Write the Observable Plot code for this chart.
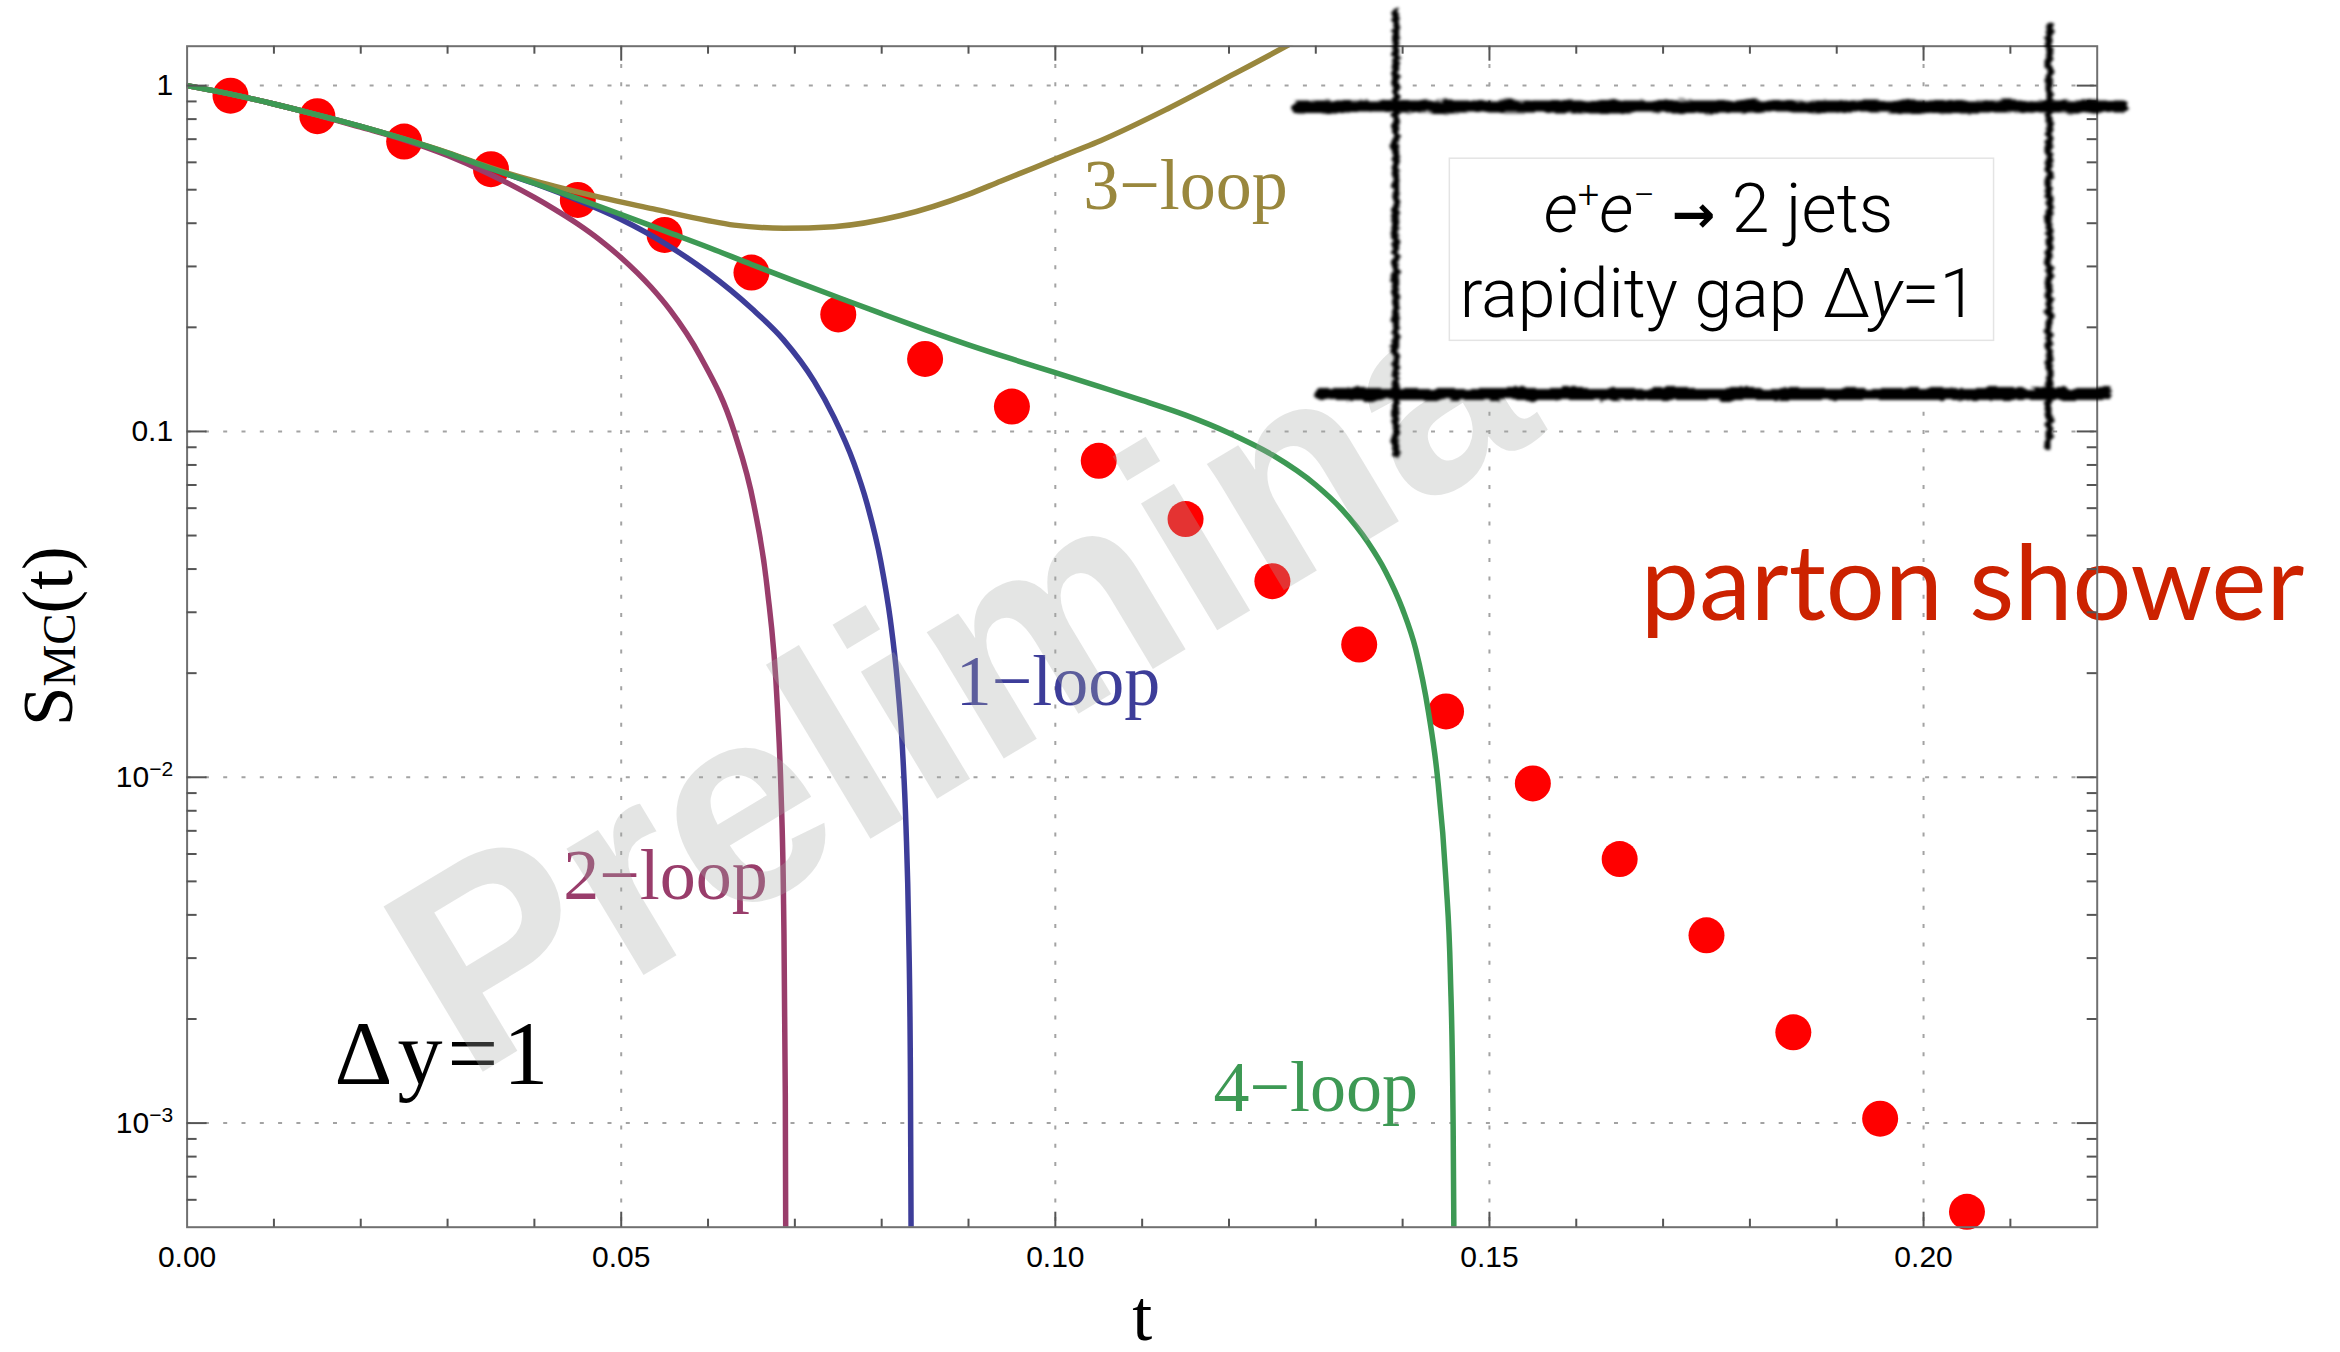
<!DOCTYPE html>
<html><head><meta charset="utf-8">
<script src="https://cdn.jsdelivr.net/npm/d3@7"></script>
<script src="https://cdn.jsdelivr.net/npm/@observablehq/plot@0.6"></script>
<style>html,body{margin:0;padding:0;background:#fff;} svg{display:block;}</style>
</head><body>
<script>
// ---------- data ----------
const showerT = [0.005,0.015,0.025,0.035,0.045,0.055,0.065,0.075,0.085,0.095,0.105,0.115,0.125,0.135,0.145,0.155,0.165,0.175,0.185,0.195,0.205];
const showerS = [0.935,0.816,0.689,0.573,0.467,0.370,0.288,0.218,0.162,0.118,0.0822,0.0558,0.0369,0.0242,0.0155,0.0096,0.0058,0.00349,0.00183,0.00103,0.000554];

const loop1T = [0,0.005,0.010,0.015,0.020,0.025,0.030,0.035,0.040,0.045,0.050,0.055,0.060,0.065,0.0687,0.0722,0.0745,0.0768,0.0783,0.0799,0.0810,0.0818,0.0824,0.0828,0.0831,0.0833,0.0834,0.08345];
const loop1S = [1,0.945,0.885,0.823,0.762,0.700,0.638,0.575,0.521,0.466,0.410,0.350,0.288,0.227,0.184,0.140,0.110,0.081,0.062,0.042,0.0285,0.0190,0.0120,0.0072,0.0037,0.0015,0.0004,0.0001];

const loop2T = [0,0.005,0.010,0.015,0.020,0.025,0.030,0.0345,0.040,0.0422,0.045,0.0476,0.050,0.0534,0.0556,0.0591,0.063,0.0653,0.0668,0.0680,0.0684,0.0687,0.0689,0.06897];
const loop2S = [1,0.945,0.885,0.822,0.758,0.697,0.628,0.560,0.475,0.441,0.398,0.357,0.318,0.262,0.225,0.165,0.100,0.061,0.0355,0.0158,0.0092,0.0043,0.0012,0.0003];

const loop3T = [0,0.005,0.010,0.015,0.020,0.025,0.030,0.035,0.040,0.0476,0.0537,0.0598,0.063,0.0687,0.0745,0.0822,0.0899,0.0937,0.0975,0.1022,0.1052,0.1129,0.1206,0.1267,0.1300];
const loop3S = [1,0.945,0.885,0.823,0.762,0.701,0.640,0.578,0.530,0.475,0.440,0.408,0.395,0.387,0.391,0.421,0.484,0.529,0.578,0.646,0.693,0.856,1.081,1.305,1.45];

const loop4T = [0,0.005,0.010,0.015,0.020,0.025,0.030,0.035,0.040,0.045,0.050,0.055,0.060,0.065,0.070,0.075,0.080,0.085,0.090,0.095,0.100,0.105,0.110,0.115,0.120,0.125,0.130,0.133,0.136,0.138,0.140,0.1415,0.143,0.144,0.145,0.1455,0.1458,0.1459,0.14595];
const loop4S = [1,0.945,0.885,0.823,0.762,0.700,0.638,0.575,0.522,0.471,0.424,0.380,0.341,0.304,0.272,0.244,0.219,0.197,0.178,0.162,0.148,0.135,0.123,0.1115,0.099,0.0855,0.070,0.0595,0.0478,0.0395,0.0306,0.0235,0.0153,0.0101,0.0050,0.0027,0.0011,0.0005,0.0002];

const xTickLabels = [0, 0.05, 0.10, 0.15, 0.20];
const yTickLabels = [1, 0.1, 0.01, 0.001];

const curveNames = ["1−loop", "2−loop", "3−loop", "4−loop"];
const curveLabelT = [0.1003, 0.0551, 0.1150, 0.1300];
const curveLabelS = [0.01884, 0.00517, 0.514, 0.00126];

// ---------- styles ----------
const colors = {"1−loop": "#3d3d99", "2−loop": "#993d6b", "3−loop": "#99873d", "4−loop": "#3d9954"};
const W = 2340, H = 1352;
const M = {left: 186.6, right: 243.3, top: 45.7, bottom: 125.3};
const PW = W - M.left - M.right, PH = H - M.top - M.bottom;

// ---------- tables ----------
const shower = showerT.map((t, i) => ({t, s: showerS[i]}));
const curves = [
  ...loop1T.map((t, i) => ({name: "1−loop", t, s: loop1S[i]})),
  ...loop2T.map((t, i) => ({name: "2−loop", t, s: loop2S[i]})),
  ...loop3T.map((t, i) => ({name: "3−loop", t, s: loop3S[i]})),
  ...loop4T.map((t, i) => ({name: "4−loop", t, s: loop4S[i]}))
];
const curveLabels = curveNames.map((name, i) => ({name, t: curveLabelT[i], s: curveLabelS[i]}));

const xMinor = d3.range(1, 22).map(i => i / 100).filter(v => Math.abs(v * 20 - Math.round(v * 20)) > 1e-6);
const yMinor = [];
for (const e of [-4, -3, -2, -1]) for (let m = 2; m <= 9; m++) { const v = m * 10 ** e; if (v > 5.01e-4 && v < 1.3) yMinor.push(v); }

const grid = {stroke: "#a3a3a3", strokeWidth: 2, strokeDasharray: "4,14.3"};
const tk = {stroke: "#555", strokeWidth: 2};
const serif = "'Liberation Serif', 'Times New Roman', serif";
const sans = "'Liberation Sans', Arial, Helvetica, sans-serif";

const plot = Plot.plot({
  width: W, height: H,
  marginLeft: M.left, marginRight: M.right, marginTop: M.top, marginBottom: M.bottom,
  style: {fontFamily: sans, fontSize: "30px", color: "black", background: "white", overflow: "visible"},
  x: {domain: [0, 0.22]},
  y: {type: "log", domain: [5e-4, 1.3]},
  marks: [
    Plot.ruleX([0.05, 0.10, 0.15, 0.20], grid),
    Plot.ruleY(yTickLabels, grid),
    Plot.dot(shower, {x: "t", y: "s", r: 18, fill: "#ff0000", stroke: null}),
    ...curveNames.map(n => Plot.line(curves.filter(d => d.name === n), {x: "t", y: "s", stroke: colors[n], strokeWidth: 5.5, curve: "monotone-x", clip: true})),
    Plot.text(curveLabels, {x: "t", y: "s", text: "name", fill: d => colors[d.name], fontFamily: serif, fontSize: 72}),
    Plot.text(["Δy=1"], {x: [0.02957], y: [0.001568], text: d => d, fontFamily: serif, fontSize: 90, fill: "black", ariaDescription: "dy1"}),
    Plot.text(["Prelimina"], {x: [0.02689], y: [0.002203], text: d => d, rotate: -31, textAnchor: "start", fontFamily: sans, fontWeight: "bold", fontSize: 280, fill: "#a4aaa7", fillOpacity: 0.3}),
    Plot.rect([0], {x1: [0.1392], x2: [0.2144], y1: [0.1284], y2: [0.8694], fill: "white"}),
    Plot.rect([0], {x1: [0.14544], x2: [0.20812], y1: [0.1828], y2: [0.6147], fill: "white", stroke: "#e4e4e4", strokeWidth: 1.5}),
    Plot.text(["parton shower"], {x: [0.16744], y: [0.0356], text: d => d, textAnchor: "start", fontFamily: "Lato, 'Open Sans', sans-serif", fontSize: 104, fill: "#cc2200"}),
    Plot.text(["t"], {frameAnchor: "bottom", text: d => d, dy: 113, fontFamily: serif, fontSize: 72, fill: "black"}),
    Plot.frame({stroke: "#707070", strokeWidth: 2}),
    Plot.ruleX([0.05, 0.10, 0.15, 0.20], {insetTop: PH - 15, ...tk}),
    Plot.ruleX([0.05, 0.10, 0.15, 0.20], {insetBottom: PH - 15, ...tk}),
    Plot.ruleX(xMinor, {insetTop: PH - 8, ...tk}),
    Plot.ruleX(xMinor, {insetBottom: PH - 8, ...tk}),
    Plot.ruleY(yTickLabels, {insetRight: PW - 20, ...tk}),
    Plot.ruleY(yTickLabels, {insetLeft: PW - 20, ...tk}),
    Plot.ruleY(yMinor, {insetRight: PW - 10, ...tk}),
    Plot.ruleY(yMinor, {insetLeft: PW - 10, ...tk}),
    Plot.axisX({ticks: xTickLabels, tickFormat: d3.format(".2f"), tickSize: 0, tickPadding: 18, label: null, fontSize: 30}),
    Plot.axisY({ticks: yTickLabels, tickFormat: d => d >= 0.1 ? String(d) : "10^−" + Math.round(-Math.log10(d)), tickSize: 0, tickPadding: 14, label: null, fontSize: 30}),
    // hand-drawn frame around the inset box
    Plot.ruleY([0.8694], {x1: 0.1279, x2: 0.2230, stroke: "black", strokeWidth: 12, strokeLinecap: "round", ariaDescription: "brush"}),
    Plot.ruleY([0.1284], {x1: 0.1306, x2: 0.2211, stroke: "black", strokeWidth: 12, strokeLinecap: "round", ariaDescription: "brush"}),
    Plot.ruleX([0.1392], {y1: 1.627, y2: 0.0849, stroke: "black", strokeWidth: 7, strokeLinecap: "round", ariaDescription: "brush"}),
    Plot.ruleX([0.21445], {y1: 1.492, y2: 0.0896, stroke: "black", strokeWidth: 7, strokeLinecap: "round", ariaDescription: "brush"})
  ]
});

document.body.append(plot);
const svg = d3.select(plot);
const sx = plot.scale("x"), sy = plot.scale("y");

// superscript exponents on y tick labels
svg.selectAll('g[aria-label="y-axis tick label"] text').each(function () {
  const s = this.textContent;
  const m = s.match(/^10\^(.*)$/);
  if (m) {
    this.textContent = "10";
    d3.select(this).append("tspan").attr("dy", -11).attr("font-size", 21).text(m[1]);
  }
});

svg.selectAll('g[aria-description="dy1"] text').attr("letter-spacing", 5);

// rough brush filter
const defs = svg.insert("defs", ":first-child");
const f = defs.append("filter").attr("id", "rough").attr("filterUnits", "userSpaceOnUse")
  .attr("x", 0).attr("y", 0).attr("width", W).attr("height", H);
f.append("feTurbulence").attr("type", "fractalNoise").attr("baseFrequency", "0.05 0.2").attr("numOctaves", 3).attr("seed", 7).attr("result", "noise");
f.append("feDisplacementMap").attr("in", "SourceGraphic").attr("in2", "noise").attr("scale", 7)
  .attr("xChannelSelector", "R").attr("yChannelSelector", "G").attr("result", "disp");
f.append("feGaussianBlur").attr("in", "disp").attr("stdDeviation", 1.6);
svg.selectAll('[aria-description="brush"]').attr("filter", "url(#rough)");

// y-axis label S_MC(t)
const yl = svg.append("text")
  .attr("transform", `translate(${M.left - 115},${M.top + PH / 2}) rotate(-90)`)
  .attr("text-anchor", "middle").attr("font-family", serif).attr("font-size", 71).attr("fill", "black");
yl.append("tspan").text("S");
yl.append("tspan").attr("font-size", 47).attr("dy", 3).text("MC");
yl.append("tspan").attr("dy", -3).text("(t)");

// inset box text
const boxFont = "Roboto, 'Liberation Sans', Arial, sans-serif";
const cx = sx.apply(0.17643);
const l1 = svg.append("text").attr("x", cx).attr("y", sy.apply(0.3755)).attr("text-anchor", "middle")
  .attr("font-family", boxFont).attr("font-weight", 300).attr("font-size", 68).attr("fill", "#000");
l1.append("tspan").attr("font-style", "italic").text("e");
l1.append("tspan").attr("font-size", 38).attr("dy", -24).text("+");
l1.append("tspan").attr("font-style", "italic").attr("dy", 24).text("e");
l1.append("tspan").attr("font-size", 38).attr("dy", -24).text("−");
l1.append("tspan").attr("dy", 24).text(" ");
l1.append("tspan").attr("font-weight", 700).attr("font-family", "'DejaVu Sans', sans-serif").attr("font-size", 52).text("→");
l1.append("tspan").text(" 2 jets");
const l2 = svg.append("text").attr("x", cx).attr("y", sy.apply(0.2131)).attr("text-anchor", "middle")
  .attr("font-family", boxFont).attr("font-weight", 300).attr("font-size", 68).attr("fill", "#000");
l2.append("tspan").text("rapidity gap Δ");
l2.append("tspan").attr("font-style", "italic").text("y");
l2.append("tspan").text("=1");
</script></body></html>
